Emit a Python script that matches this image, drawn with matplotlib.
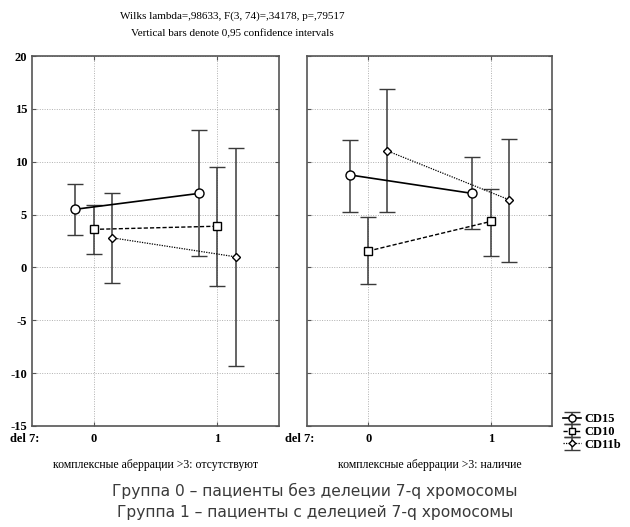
import matplotlib.pyplot as plt

# del 7 groups (0 / 1)
groups = [0, 1]
series = ["CD15", "CD10", "CD11b"]

# panel 1: complex aberrations >3 absent
left_mean = {"CD15": [5.5, 7.0], "CD10": [3.6, 3.9], "CD11b": [2.8, 1.0]}
left_low = {"CD15": [3.05, 1.05], "CD10": [1.27, -1.8], "CD11b": [-1.5, -9.35]}
left_high = {"CD15": [7.9, 13.0], "CD10": [5.9, 9.5], "CD11b": [7.0, 11.3]}

# panel 2: complex aberrations >3 present
right_mean = {"CD15": [8.75, 7.0], "CD10": [1.55, 4.35], "CD11b": [11.05, 6.4]}
right_low = {"CD15": [5.27, 3.65], "CD10": [-1.6, 1.1], "CD11b": [5.2, 0.5]}
right_high = {"CD15": [12.05, 10.4], "CD10": [4.8, 7.45], "CD11b": [16.9, 12.15]}

yticks = [-15, -10, -5, 0, 5, 10, 15, 20]
panel_labels = ["комплексные аберрации >3: отсутствуют",
                "комплексные аберрации >3: наличие"]

styles = {
    "CD15": dict(marker="o", ms=6.5, ls="-", lw=1.2, off=-0.15),
    "CD10": dict(marker="s", ms=5.5, ls=(0, (3, 1.5)), lw=1.0, off=0.0),
    "CD11b": dict(marker="D", ms=4.2, ls=(0, (1, 1)), lw=0.9, off=0.15),
}

plt.rcParams["font.family"] = "Liberation Serif"

fig = plt.figure(figsize=(6.3, 5.27), dpi=100)
ax1 = fig.add_axes([32 / 630, 101 / 527, 247 / 630, 370 / 527])
ax2 = fig.add_axes([307 / 630, 101 / 527, 245 / 630, 370 / 527])

handles = []
for ax, means, lows, highs, lab in [(ax1, left_mean, left_low, left_high, panel_labels[0]),
                                     (ax2, right_mean, right_low, right_high, panel_labels[1])]:
    for s in series:
        st = styles[s]
        xs = [g + st["off"] for g in groups]
        m = means[s]
        err = [[m[i] - lows[s][i] for i in range(2)], [highs[s][i] - m[i] for i in range(2)]]
        eb = ax.errorbar(xs, m, yerr=err, color="black", ls=st["ls"], lw=st["lw"],
                         marker=st["marker"], ms=st["ms"], mfc="white", mec="black", mew=1.0,
                         ecolor="#3a3a3a", elinewidth=1.1, capsize=5.5, capthick=1.1)
        if ax is ax1:
            handles.append(eb)
    ax.set_xlim(-0.5, 1.5)
    ax.set_ylim(-15, 20)
    ax.set_xticks(groups)
    ax.set_xticklabels([])
    ax.set_yticks(yticks)
    ax.grid(True, color="#b0b0b0", ls=(0, (1, 1.5)), lw=0.7)
    ax.tick_params(direction="in", length=3, top=True, right=True, color="#555555")
    for sp in ax.spines.values():
        sp.set_color("#555555")
        sp.set_linewidth(1.2)
    for g in groups:
        ax.text(g, -0.035, str(g), transform=ax.get_xaxis_transform(), ha="center",
                va="center", fontsize=9, fontweight="bold")
    ax.text(-0.56, -0.035, "del 7:", transform=ax.get_xaxis_transform(), ha="center",
            va="center", fontsize=9, fontweight="bold")
    ax.text(0.5, -0.105, lab, transform=ax.transAxes, ha="center", va="center", fontsize=8.5)

ax1.set_yticklabels([str(v) for v in yticks], fontsize=9, fontweight="bold")
ax2.set_yticklabels([])

leg = fig.legend(handles, series, loc="center left", bbox_to_anchor=(563 / 630, 1 - 432 / 527),
                 frameon=False, fontsize=9, handlelength=1.4, handletextpad=0.3,
                 labelspacing=0.05, borderaxespad=0, borderpad=0, markerscale=0.8)
for t in leg.get_texts():
    t.set_fontweight("bold")

fig.text(232 / 630, 1 - 16 / 527, "Wilks lambda=,98633, F(3, 74)=,34178, p=,79517",
         ha="center", va="center", fontsize=8)
fig.text(232 / 630, 1 - 34 / 527, "Vertical bars denote 0,95 confidence intervals",
         ha="center", va="center", fontsize=8)

bottom_font = ["Liberation Sans Narrow", "DejaVu Sans"]
fig.text(0.5, 1 - 491 / 527, "Группа 0 – пациенты без делеции 7-q хромосомы",
         ha="center", va="center", fontsize=11.2, family=bottom_font, color="#3a3a3a")
fig.text(0.5, 1 - 513 / 527, "Группа 1 – пациенты с делецией 7-q хромосомы",
         ha="center", va="center", fontsize=11.2, family=bottom_font, color="#3a3a3a")

fig.savefig("out.png", dpi=100)
